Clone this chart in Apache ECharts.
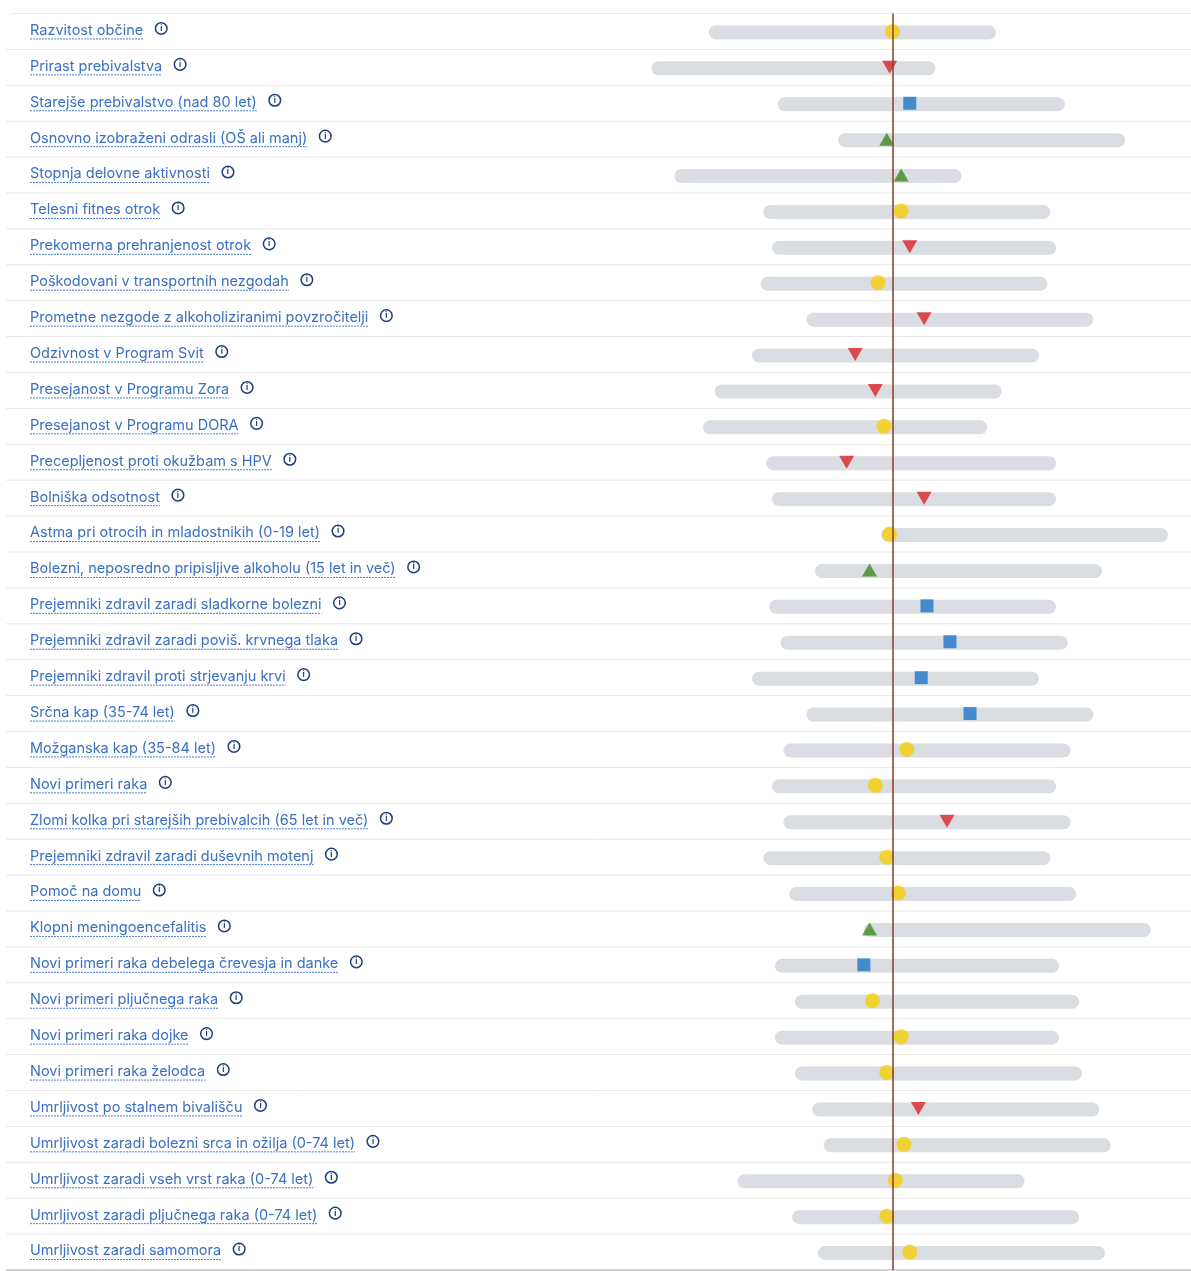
<!DOCTYPE html>
<html><head><meta charset="utf-8">
<script src="https://cdn.jsdelivr.net/npm/echarts@6/dist/echarts.min.js"></script>
<style>html,body{margin:0;padding:0;background:#fff}#c{width:1191px;height:1271px}</style>
</head><body><div id="c"></div>
<script>
// Indicator names (top to bottom)
const indicators = [
  'Razvitost občine',
  'Prirast prebivalstva',
  'Starejše prebivalstvo (nad 80 let)',
  'Osnovno izobraženi odrasli (OŠ ali manj)',
  'Stopnja delovne aktivnosti',
  'Telesni fitnes otrok',
  'Prekomerna prehranjenost otrok',
  'Poškodovani v transportnih nezgodah',
  'Prometne nezgode z alkoholiziranimi povzročitelji',
  'Odzivnost v Program Svit',
  'Presejanost v Programu Zora',
  'Presejanost v Programu DORA',
  'Precepljenost proti okužbam s HPV',
  'Bolniška odsotnost',
  'Astma pri otrocih in mladostnikih (0-19 let)',
  'Bolezni, neposredno pripisljive alkoholu (15 let in več)',
  'Prejemniki zdravil zaradi sladkorne bolezni',
  'Prejemniki zdravil zaradi poviš. krvnega tlaka',
  'Prejemniki zdravil proti strjevanju krvi',
  'Srčna kap (35-74 let)',
  'Možganska kap (35-84 let)',
  'Novi primeri raka',
  'Zlomi kolka pri starejših prebivalcih (65 let in več)',
  'Prejemniki zdravil zaradi duševnih motenj',
  'Pomoč na domu',
  'Klopni meningoencefalitis',
  'Novi primeri raka debelega črevesja in danke',
  'Novi primeri pljučnega raka',
  'Novi primeri raka dojke',
  'Novi primeri raka želodca',
  'Umrljivost po stalnem bivališču',
  'Umrljivost zaradi bolezni srca in ožilja (0-74 let)',
  'Umrljivost zaradi vseh vrst raka (0-74 let)',
  'Umrljivost zaradi pljučnega raka (0-74 let)',
  'Umrljivost zaradi samomora'
];
// Range of all municipalities (relative scale, Slovenia average = 0)
const rangeLow  = [-64,-84,-40,-19,-76,-45,-42,-46,-30,-49,-62,-66,-44,-42,-4,-27,-43,-39,-49,-30,-38,-42,-38,-45,-36,-10,-41,-34,-41,-34,-28,-24,-54,-35,-26];
const rangeHigh = [ 36, 15, 60, 81, 24, 55, 57, 54, 70, 51, 38, 33, 57, 57,96, 73, 57, 61, 51, 70, 62, 57, 62, 55, 64, 90, 58, 65, 58, 66, 72, 76, 46, 65, 74];
// Municipality value
const municipality = [0,-1,6,-2,3,3,6,-5,11,-13,-6,-3,-16,11,-1,-8,12,20,10,27,5,-6,19,-2,2,-8,-10,-7,3,-2,9,4,1,-2,6];
// Status: n = no difference, w = worse, b = better, x = not assessed
const status = ['n','w','x','b','b','n','w','n','w','w','w','n','w','w','n','b','x','x','x','x','n','n','w','n','n','b','x','n','n','n','w','n','n','n','n'];
const sloveniaAvg = 0;

const FONT_FAMILY = 'Inter, Roboto, sans-serif';
const FONT_SIZE = 14.5;
const measureCtx = document.createElement('canvas').getContext('2d');
measureCtx.font = FONT_SIZE + 'px ' + FONT_FAMILY;

const styles = {
  n: {symbol: 'circle', size: 15, rotate: 0, color: '#f6cf0a'},
  w: {symbol: 'triangle', size: [15, 13], rotate: 180, color: '#d8262b'},
  b: {symbol: 'triangle', size: [15, 13], rotate: 0, color: '#3b8a22'},
  x: {symbol: 'rect', size: 13, rotate: 0, color: '#1e77c9'}
};

const chart = echarts.init(document.getElementById('c'), null, {renderer: 'canvas'});

const n = indicators.length;
const labelData = indicators.map((name, i) => [sloveniaAvg, i]);
const rangeData = indicators.map((name, i) => [rangeLow[i], rangeHigh[i], i]);
const markerData = indicators.map((name, i) => {
  const s = styles[status[i]];
  return {value: [municipality[i], i], symbol: s.symbol, symbolSize: s.size, symbolRotate: s.rotate, itemStyle: {color: s.color}};
});

function renderLabel(params, api) {
  const i = api.value(1);
  const y = api.coord([0, i])[1];
  const band = api.size([0, 1])[1];
  const name = indicators[i];
  const x0 = 30;
  const w = measureCtx.measureText(name).width;
  const ty = y - 1;
  const children = [
    {type: 'text', x: x0, y: ty, style: {text: name, fill: '#3a6fc2', font: FONT_SIZE + 'px ' + FONT_FAMILY, verticalAlign: 'middle', align: 'left'}},
    {type: 'line', shape: {x1: x0, y1: ty + 8.5, x2: x0 + w, y2: ty + 8.5}, style: {stroke: '#4a7fcf', lineWidth: 1, lineDash: [2, 1]}},
    {type: 'circle', shape: {cx: x0 + w + 18, cy: ty - 2, r: 5.8}, style: {fill: 'none', stroke: '#1f3e7c', lineWidth: 1.5}},
    {type: 'text', x: x0 + w + 18, y: ty - 2, style: {text: 'i', fill: '#1f3e7c', font: 'bold 8px ' + FONT_FAMILY, align: 'center', verticalAlign: 'middle'}},
    {type: 'line', shape: {x1: 6, y1: y + band / 2, x2: 1191, y2: y + band / 2},
      style: {stroke: i === n - 1 ? '#d4d4d4' : '#e8e8e8', lineWidth: i === n - 1 ? 2 : 1}}
  ];
  if (i === 0) {
    children.push({type: 'line', shape: {x1: 10, y1: y - band / 2, x2: 1191, y2: y - band / 2}, style: {stroke: '#e4e4e4', lineWidth: 1, lineDash: [3, 1]}});
  }
  return {type: 'group', children};
}

function renderRange(params, api) {
  const lo = api.coord([api.value(0), api.value(2)]);
  const hi = api.coord([api.value(1), api.value(2)]);
  const h = 14;
  return {type: 'rect', shape: {x: lo[0], y: lo[1] - h / 2 + 1, width: hi[0] - lo[0], height: h, r: h / 2}, style: {fill: '#dadde1'}};
}

chart.setOption({
  animation: false,
  backgroundColor: '#ffffff',
  grid: {left: 0, right: 0, top: 13.5, height: 1256.5, containLabel: false},
  xAxis: {type: 'value', min: -311, max: 104, show: false},
  yAxis: {type: 'category', data: indicators, inverse: true, show: false},
  series: [
    {type: 'custom', name: 'labels', data: labelData, renderItem: renderLabel, encode: {x: 0, y: 1}, z: 1, silent: true, clip: false},
    {type: 'custom', name: 'range', data: rangeData, renderItem: renderRange, encode: {x: [0, 1], y: 2}, z: 2, silent: true},
    {type: 'scatter', name: 'municipality', data: markerData, z: 3, silent: true},
    {type: 'scatter', name: 'slovenia', data: [], z: 5, silent: true,
      markLine: {silent: true, symbol: ['none', 'none'], label: {show: false},
        lineStyle: {color: '#8b3a24', width: 1.5, type: 'solid'},
        data: [{xAxis: sloveniaAvg}]}}
  ]
});
</script>
</body></html>
